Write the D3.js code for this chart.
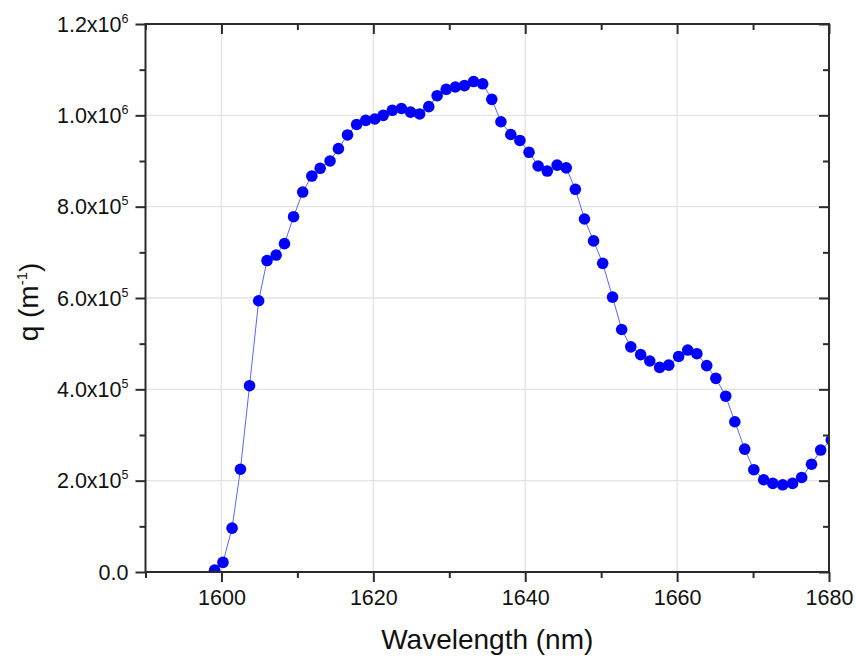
<!DOCTYPE html>
<html>
<head>
<meta charset="utf-8">
<script src="https://cdn.jsdelivr.net/npm/d3@7"></script>
<style>
  html, body { margin: 0; padding: 0; background: #fff; }
  svg { display: block; font-family: "Liberation Sans", Arial, sans-serif; }
</style>
</head>
<body>
<svg id="chart" width="856" height="659"></svg>
<script>
// ---- data ----
const wavelength = [1599.1, 1600.2, 1601.4, 1602.5, 1603.7, 1604.9, 1606.0, 1607.2, 1608.3, 1609.5,
  1610.7, 1611.9, 1613.0, 1614.3, 1615.4, 1616.6, 1617.8, 1619.0, 1620.2, 1621.3,
  1622.5, 1623.7, 1624.9, 1626.1, 1627.3, 1628.4, 1629.6, 1630.8, 1632.0, 1633.2,
  1634.4, 1635.6, 1636.8, 1638.1, 1639.3, 1640.5, 1641.7, 1642.9, 1644.2, 1645.4,
  1646.6, 1647.8, 1649.0, 1650.2, 1651.5, 1652.7, 1653.9, 1655.2, 1656.4, 1657.7,
  1658.9, 1660.2, 1661.4, 1662.6, 1663.9, 1665.1, 1666.4, 1667.6, 1668.9, 1670.1,
  1671.4, 1672.6, 1673.9, 1675.2, 1676.4, 1677.7, 1678.9, 1680.3];
const qValues = [4e3, 2.1e4, 9.6e4, 2.25e5, 4.08e5, 5.94e5, 6.82e5, 6.94e5, 7.19e5, 7.78e5,
  8.32e5, 8.67e5, 8.84e5, 9.00e5, 9.27e5, 9.57e5, 9.80e5, 9.89e5, 9.92e5, 1.000e6,
  1.011e6, 1.015e6, 1.007e6, 1.003e6, 1.019e6, 1.043e6, 1.057e6, 1.062e6, 1.065e6, 1.074e6,
  1.069e6, 1.035e6, 9.86e5, 9.58e5, 9.45e5, 9.19e5, 8.89e5, 8.78e5, 8.91e5, 8.85e5,
  8.38e5, 7.73e5, 7.25e5, 6.76e5, 6.02e5, 5.31e5, 4.93e5, 4.76e5, 4.62e5, 4.48e5,
  4.53e5, 4.72e5, 4.86e5, 4.78e5, 4.52e5, 4.24e5, 3.85e5, 3.29e5, 2.69e5, 2.24e5,
  2.02e5, 1.94e5, 1.91e5, 1.94e5, 2.07e5, 2.36e5, 2.67e5, 2.89e5];

const xMajorTicks = [1600, 1620, 1640, 1660, 1680];
const xMinorTicks = [1590, 1610, 1630, 1650, 1670];
const yMajorTicks = [0, 2e5, 4e5, 6e5, 8e5, 1e6, 1.2e6];
const yMinorTicks = [1e5, 3e5, 5e5, 7e5, 9e5, 1.1e6];
const yTickMantissa = ["0.0", "2.0x10", "4.0x10", "6.0x10", "8.0x10", "1.0x10", "1.2x10"];
const yTickExponent = ["", "5", "5", "5", "5", "6", "6"];
const xDomain = [1590, 1680];
const yDomain = [0, 1.2e6];
const xTitle = "Wavelength (nm)";
const yTitleMain = "q (m";
const yTitleSup = "-1";

// ---- layout ----
const L = 145.5, R = 829, T = 24, B = 572;
const svg = d3.select("#chart");
const x = d3.scaleLinear().domain(xDomain).range([L, R]);
const y = d3.scaleLinear().domain(yDomain).range([B, T]);
const axisColor = "#2b2b2b";
const gridColor = "#e3e3e3";
const textColor = "#111";

// grid
const grid = svg.append("g");
grid.selectAll("line.gx").data(xMajorTicks.filter(d => d > xDomain[0] && d < xDomain[1]))
  .join("line").attr("x1", d => x(d)).attr("x2", d => x(d)).attr("y1", T).attr("y2", B)
  .attr("stroke", gridColor).attr("stroke-width", 1.3);
grid.selectAll("line.gy").data(yMajorTicks.filter(d => d > yDomain[0] && d < yDomain[1]))
  .join("line").attr("y1", d => y(d)).attr("y2", d => y(d)).attr("x1", L).attr("x2", R)
  .attr("stroke", gridColor).attr("stroke-width", 1.3);

// clip
svg.append("defs").append("clipPath").attr("id", "plotclip")
  .append("rect").attr("x", L).attr("y", T).attr("width", R - L).attr("height", B - T);

const pts = wavelength.map((w, i) => [w, qValues[i]]);
const plot = svg.append("g").attr("clip-path", "url(#plotclip)");
plot.append("path").datum(pts)
  .attr("d", d3.line().x(d => x(d[0])).y(d => y(d[1])))
  .attr("fill", "none").attr("stroke", "#5a66ff").attr("stroke-width", 1);
plot.selectAll("circle").data(pts).join("circle")
  .attr("cx", d => x(d[0])).attr("cy", d => y(d[1])).attr("r", 5.8)
  .attr("fill", "#0000ff");

// axes
function styleAxis(g) {
  g.select(".domain").remove();
  g.selectAll("line").attr("stroke", axisColor).attr("stroke-width", 2);
}
const fontSize = 21.5;
// bottom major with labels
const gxB = svg.append("g").attr("transform", `translate(0,${B})`)
  .call(d3.axisBottom(x).tickValues(xMajorTicks).tickSize(10).tickPadding(8).tickFormat(d3.format("d")));
styleAxis(gxB);
gxB.selectAll("text").attr("fill", textColor).attr("font-size", fontSize);
svg.append("g").attr("transform", `translate(0,${B})`)
  .call(d3.axisBottom(x).tickValues(xMinorTicks).tickSize(6).tickFormat("")).call(styleAxis);
// top (inward)
svg.append("g").attr("transform", `translate(0,${T})`)
  .call(d3.axisBottom(x).tickValues(xMajorTicks).tickSize(10).tickFormat("")).call(styleAxis);
svg.append("g").attr("transform", `translate(0,${T})`)
  .call(d3.axisBottom(x).tickValues(xMinorTicks).tickSize(6).tickFormat("")).call(styleAxis);
// left
const gyL = svg.append("g").attr("transform", `translate(${L},0)`)
  .call(d3.axisLeft(y).tickValues(yMajorTicks).tickSize(10).tickFormat(""));
styleAxis(gyL);
svg.append("g").attr("transform", `translate(${L},0)`)
  .call(d3.axisLeft(y).tickValues(yMinorTicks).tickSize(6).tickFormat("")).call(styleAxis);
// right (inward)
svg.append("g").attr("transform", `translate(${R},0)`)
  .call(d3.axisLeft(y).tickValues(yMajorTicks).tickSize(10).tickFormat("")).call(styleAxis);
svg.append("g").attr("transform", `translate(${R},0)`)
  .call(d3.axisLeft(y).tickValues(yMinorTicks).tickSize(6).tickFormat("")).call(styleAxis);

// y tick labels with superscripts
const ylab = svg.append("g");
yMajorTicks.forEach((v, i) => {
  const t = ylab.append("text").attr("x", L - 17).attr("y", y(v)).attr("dy", "0.36em")
    .attr("text-anchor", "end").attr("fill", textColor).attr("font-size", fontSize);
  t.append("tspan").text(yTickMantissa[i]);
  if (yTickExponent[i]) {
    t.append("tspan").attr("font-size", 12.5).attr("dy", "-0.72em").text(yTickExponent[i]);
  }
});

// frame
svg.append("rect").attr("x", L).attr("y", T).attr("width", R - L).attr("height", B - T)
  .attr("fill", "none").attr("stroke", axisColor).attr("stroke-width", 2);

// titles
svg.append("text").attr("x", (L + R) / 2).attr("y", 649).attr("text-anchor", "middle")
  .attr("font-size", 28).attr("fill", textColor).text(xTitle);
const yt = svg.append("text").attr("transform", `translate(38,${(T + B) / 2 + 4}) rotate(-90)`)
  .attr("text-anchor", "middle").attr("font-size", 28).attr("fill", textColor);
yt.append("tspan").text(yTitleMain);
yt.append("tspan").attr("font-size", 15).attr("dy", "-0.75em").text(yTitleSup);
yt.append("tspan").attr("dy", "0.43em").text(")");
</script>
</body>
</html>
